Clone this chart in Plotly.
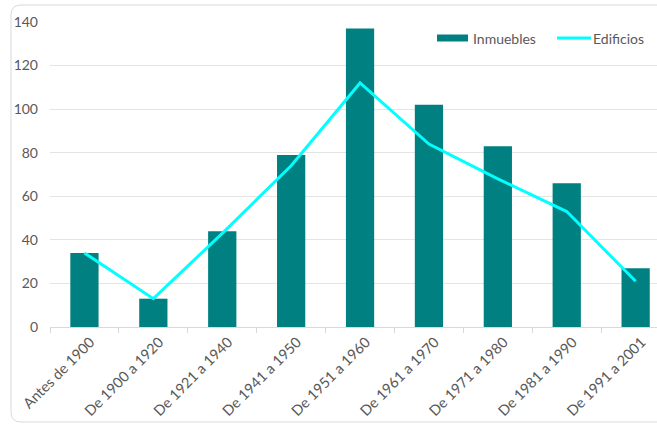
import plotly.graph_objects as go

categories = ["Antes de 1900", "De 1900 a 1920", "De 1921 a 1940", "De 1941 a 1950",
              "De 1951 a 1960", "De 1961 a 1970", "De 1971 a 1980", "De 1981 a 1990",
              "De 1991 a 2001"]
inmuebles = [34, 13, 44, 79, 137, 102, 83, 66, 27]
edificios = [34, 13, 43, 74, 112, 84, 68, 53, 21]
y_ticks = [0, 20, 40, 60, 80, 100, 120, 140]
series_names = ["Inmuebles", "Edificios"]
bar_color = "#008080"
line_color = "#00FFFF"

W, H = 657, 425
L, R, T, B = 50, 0, 22, 98
pw, ph = W - L - R, H - T - B

fig = go.Figure()
fig.add_trace(go.Bar(x=categories, y=inmuebles, name=series_names[0],
                     marker=dict(color=bar_color, line=dict(width=0)), width=0.41))
fig.add_trace(go.Scatter(x=categories, y=edificios, name=series_names[1], mode="lines",
                         line=dict(color=line_color, width=3)))

def px(x):
    return (x - L) / pw

def py(y):
    return (H - B - y) / ph

x0, x1, y0, y1, r = 11, 700, 5, 422, 10
path = (f"M {px(x1)} {py(y0)} L {px(x0 + r)} {py(y0)} "
        f"Q {px(x0)} {py(y0)} {px(x0)} {py(y0 + r)} "
        f"L {px(x0)} {py(y1 - r)} Q {px(x0)} {py(y1)} {px(x0 + r)} {py(y1)} "
        f"L {px(x1)} {py(y1)}")

shapes = [
    dict(type="path", xref="paper", yref="paper", path=path,
         line=dict(color="#d9d9d9", width=1), layer="below"),
    # legend swatches
    dict(type="rect", xref="paper", yref="paper", x0=px(437), x1=px(468),
         y0=py(41.5), y1=py(34.5), fillcolor=bar_color, line=dict(width=0)),
    dict(type="line", xref="paper", yref="paper", x0=px(557), x1=px(591),
         y0=py(38), y1=py(38), line=dict(color=line_color, width=3)),
]
annotations = [
    dict(xref="paper", yref="paper", x=px(471), y=py(38), text=series_names[0],
         showarrow=False, xanchor="left", yanchor="middle",
         font=dict(size=14, color="#595959")),
    dict(xref="paper", yref="paper", x=px(591), y=py(38), text=series_names[1],
         showarrow=False, xanchor="left", yanchor="middle",
         font=dict(size=14, color="#595959")),
]

fig.update_layout(
    width=W, height=H,
    margin=dict(l=L, r=R, t=T, b=B, autoexpand=False),
    plot_bgcolor="white", paper_bgcolor="white",
    font=dict(family="Lato, Open Sans, sans-serif", size=13, color="#595959"),
    showlegend=False,
    bargap=0.59,
    shapes=shapes,
    annotations=annotations,
)
fig.update_xaxes(range=[-0.5, 8.31], type="category", tickangle=-45,
                 showline=True, linecolor="#d9d9d9", linewidth=1,
                 ticks="outside", tickson="boundaries", ticklen=5, tickcolor="#d9d9d9",
                 showgrid=False, automargin=False, ticklabelshift=6,
                 tickfont=dict(size=14.5, color="#595959"))
fig.update_yaxes(range=[0, 140], tickvals=y_ticks, showgrid=True, gridcolor="#e4e4e4",
                 gridwidth=1, zeroline=False, showline=False, ticks="",
                 automargin=False, ticklabelstandoff=11,
                 tickfont=dict(size=14, color="#595959"))

fig.write_html("out.html", config={"displayModeBar": False},
               post_script="document.body.style.margin='0';document.body.style.overflow='hidden';")
